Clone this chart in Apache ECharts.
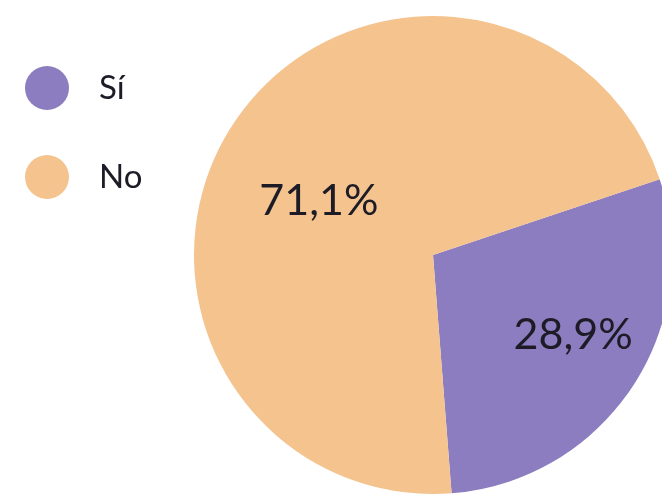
<!DOCTYPE html>
<html>
<head>
<meta charset="utf-8">
<script src="https://cdn.jsdelivr.net/npm/echarts@6/dist/echarts.min.js"></script>
<style>
  html, body { margin: 0; padding: 0; background: #ffffff; }
  #chart { width: 662px; height: 495px; }
</style>
</head>
<body>
<div id="chart"></div>
<script>
const categories = ['Sí', 'No'];
const values = [28.9, 71.1];
const colors = ['#8b7dbf', '#f4c38e'];

const chart = echarts.init(document.getElementById('chart'), null, { renderer: 'canvas' });

const labelShift = [[38, 12], [-12, 14]];

chart.setOption({
  backgroundColor: '#ffffff',
  animation: false,
  color: colors,
  legend: {
    orient: 'vertical',
    left: 20,
    top: 61,
    icon: 'circle',
    itemWidth: 44,
    itemHeight: 44,
    itemGap: 45,
    data: categories,
    textStyle: {
      fontFamily: 'Lato, "Noto Sans", sans-serif',
      fontSize: 33,
      color: '#1d1b26',
      padding: [0, 0, 0, 25]
    }
  },
  series: [{
    type: 'pie',
    center: [433, 255],
    radius: 239,
    startAngle: 18.5,
    clockwise: true,
    silent: true,
    label: {
      show: true,
      position: 'inside',
      formatter: p => p.value.toFixed(1).replace('.', ',') + '%',
      fontFamily: 'Lato, "Noto Sans", sans-serif',
      fontSize: 43,
      color: '#1d1b26'
    },
    labelLine: { show: false },
    labelLayout: p => ({ dx: labelShift[p.dataIndex][0], dy: labelShift[p.dataIndex][1] }),
    itemStyle: { borderWidth: 0 },
    data: categories.map((c, i) => ({ name: c, value: values[i] }))
  }]
});
</script>
</body>
</html>
